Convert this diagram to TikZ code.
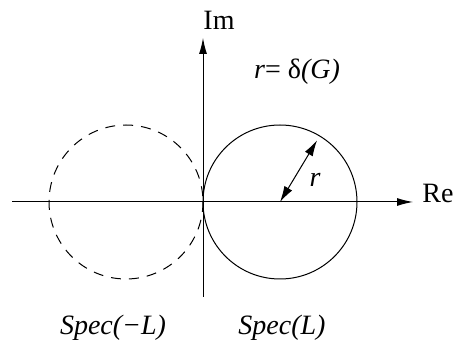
\documentclass[tikz,border=0pt]{standalone}
\usepackage{fontspec}
\setmainfont{Liberation Serif}
\usetikzlibrary{arrows.meta,calc}

\begin{document}
\begin{tikzpicture}[x=0.5pt, y=-0.5pt, line width=0.5pt,
    axis/.style={-{Latex[length=8pt,width=4pt]}},
    lbl/.style={font=\fontsize{14}{16}\selectfont, inner sep=0pt}]
                \useasboundingbox (0,0) rectangle (461,341);
                % Nodes
                \coordinate (O) at (203,202);
                \coordinate (west) at (12,202);
                \coordinate (east) at (413,202);
                \coordinate (south) at (203,297);
                \coordinate (north) at (203,38);
                \coordinate (cL) at (280,202);
                \coordinate (cmL) at (126,202);
                \coordinate (rim) at ($(cL)+(-59:72)$);
                \node[lbl] (re) at (438,193) {Re};
                \node[lbl] (im) at (219,20) {Im};
                \node[lbl] (rdef) at (297,72) {\textit{r}= δ\textit{(G)}};
                \node[lbl] (r) at (315,180) {\textit{r}};
                \node[lbl] (specmL) at (113,328) {\textit{Spec(−L)}};
                \node[lbl] (specL) at (282,328) {\textit{Spec(L)}};

                % Circles
                \draw (cL) circle (77);
                \draw[dashed, dash pattern=on 5pt off 4pt] (cmL) circle (77);

                % Edges
                \draw[axis] (west)--(east);
                \draw[axis] (south)--(north);
                \draw[{Latex[length=8pt,width=4.5pt]}-{Latex[length=8pt,width=4.5pt]}] (cL)--(rim);
            \end{tikzpicture}
\end{document}
